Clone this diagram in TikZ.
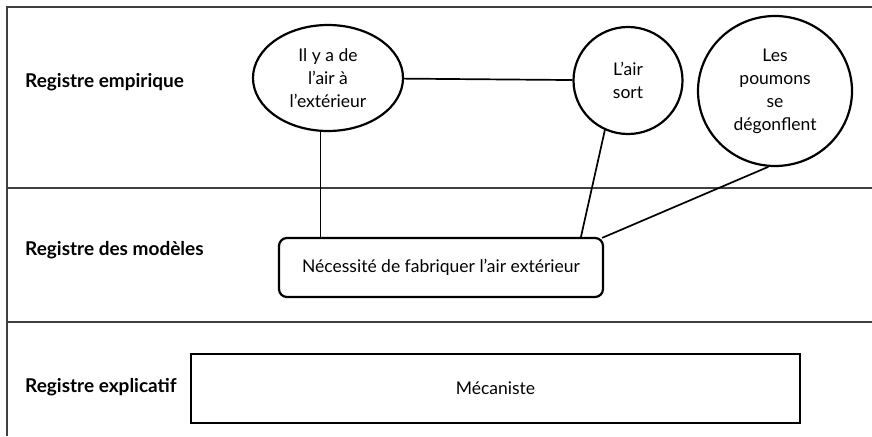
\documentclass[tikz,border=0pt]{standalone}
\usepackage{fontspec}
\setmainfont{Lato}
\usetikzlibrary{shapes.geometric,calc}
\begin{document}
\begin{tikzpicture}[x=1pt,y=-1pt,
  frame/.style={line width=1.4pt,draw=black!75},
  fig/.style={draw=black,line width=2.2pt,inner sep=0pt,align=center,font=\fontsize{17.5}{23}\selectfont},
  link/.style={draw=black,line width=1.7pt},
  reg/.style={anchor=west,inner sep=0pt,font=\fontsize{19}{22}\selectfont\bfseries}]
\useasboundingbox (0,0) rectangle (872,436);
% frame
\draw[frame] (872,7) -- (7,7) -- (7,436);
\draw[frame] (7,188) -- (872,188);
\draw[frame] (7,322) -- (872,322);
% register labels
\node[reg] (r1) at (25,82) {Registre empirique};
\node[reg] (r2) at (25,250) {Registre des modèles};
\node[reg] (r3) at (25,387) {Registre explicatif};
% nodes
\node[fig,ellipse,minimum width=150,minimum height=106] (e1) at (328,78) {Il y a de\\l’air à\\l’extérieur};
\node[fig,ellipse,minimum width=109,minimum height=107] (c2) at (628,80.5) {L’air\\sort};
\node[fig,ellipse,minimum width=154,minimum height=150] (c3) at (775,91) {Les\\poumons\\se\\dégonflent};
\node[fig,rectangle,rounded corners=8pt,minimum width=324,minimum height=59] (box) at (441,267.5) {Nécessité de fabriquer l’air extérieur};
\node[fig,rectangle,minimum width=609,minimum height=69] (mec) at (495.5,388.5) {Mécaniste};
% connectors
\draw[link] (e1) -- (c2);
\draw[link] (e1.262) -- (e1.262 |- box.north);
\draw[link] (c2.245) -- ($(box.north west)!0.929!(box.north east)$);
\draw[link] (c3.265) -- ($(box.north east)+(-2,1)$);
\end{tikzpicture}
\end{document}
